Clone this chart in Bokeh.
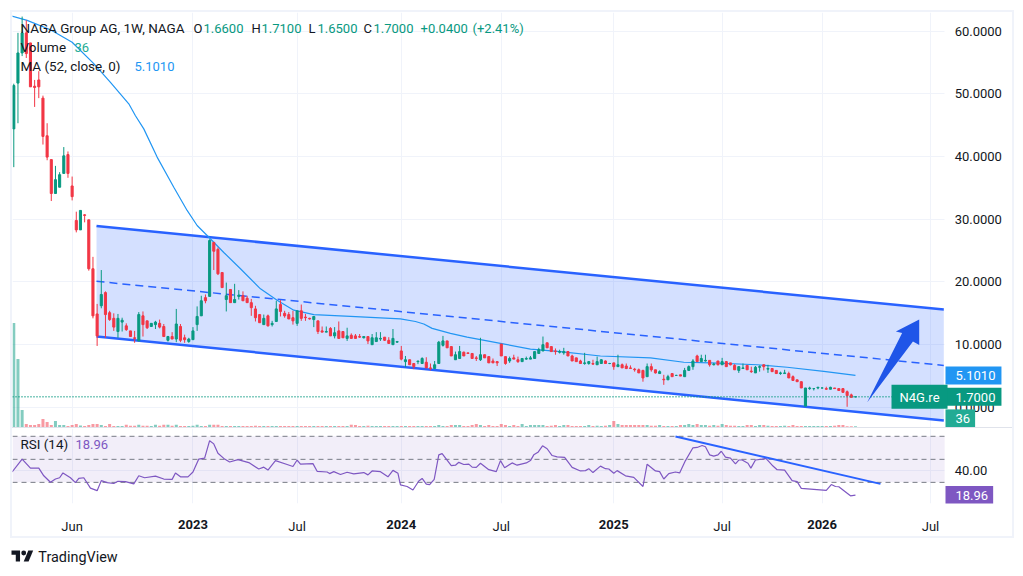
from bokeh.core.properties import value
from bokeh.embed import file_html
from bokeh.layouts import column
from bokeh.models import (ColumnDataSource, FixedTicker, Grid, Label, LinearAxis, NumeralTickFormatter,
                          Range1d, Spacer)
from bokeh.plotting import figure
from bokeh.resources import INLINE

# weekly candles: (open, high, low, close)
candles = [
    (44.4, 51.6, 38.3, 51.3), (51.7, 59.7, 45.3, 56.5), (56.5, 62.3, 56.0, 59.7), (59.7, 61.7, 55.7, 56.4),
    (58.1, 58.1, 51.1, 51.1), (51.2, 52.2, 47.9, 51.0), (52.2, 53.6, 49.3, 51.1), (49.3, 49.7, 41.9, 43.2),
    (43.3, 45.3, 39.4, 39.9), (39.5, 39.5, 32.9, 34.1), (34.1, 38.5, 34.1, 36.3), (35.1, 37.5, 35.1, 37.1),
    (37.3, 41.5, 37.3, 40.1), (40.3, 40.8, 36.6, 37.3), (35.3, 36.8, 33.0, 33.6), (29.8, 31.2, 27.9, 28.3),
    (28.3, 31.4, 28.3, 31.4), (30.7, 30.8, 29.5, 30.6), (29.9, 29.9, 21.8, 22.1), (22.1, 24.0, 14.2, 14.6),
    (14.9, 16.5, 9.8, 11.4), (16.2, 21.9, 15.8, 18.0), (18.3, 18.5, 11.1, 14.8), (15.1, 15.4, 13.8, 14.0),
    (14.2, 15.0, 12.2, 12.8), (12.1, 14.9, 11.1, 14.2), (13.6, 14.3, 12.1, 13.9), (13.0, 13.4, 12.2, 12.4),
    (12.2, 12.2, 11.3, 11.3), (11.1, 12.2, 10.3, 11.0), (10.6, 15.2, 10.6, 14.8), (14.6, 15.3, 11.3, 13.2),
    (13.8, 13.8, 12.5, 12.7), (12.9, 13.4, 12.9, 13.4), (13.2, 13.8, 12.5, 13.6), (13.4, 14.0, 12.6, 12.8),
    (12.9, 13.3, 11.3, 11.3), (10.7, 11.4, 10.5, 11.3), (11.3, 12.0, 10.9, 10.9), (10.9, 15.7, 10.4, 13.3),
    (12.9, 13.3, 10.4, 10.7), (11.1, 11.6, 10.3, 10.8), (10.5, 11.1, 10.3, 10.9), (10.8, 12.8, 10.8, 12.2),
    (13.2, 16.1, 12.2, 14.5), (14.6, 17.8, 14.6, 17.0), (17.5, 18.0, 16.6, 17.0), (17.7, 26.8, 17.7, 26.6),
    (26.3, 26.4, 21.9, 24.9), (25.2, 25.5, 21.1, 21.3), (21.5, 21.5, 19.1, 19.1), (17.2, 19.9, 15.3, 17.8),
    (18.8, 18.8, 16.7, 16.7), (16.7, 19.7, 16.7, 17.2), (17.7, 18.7, 17.2, 17.9), (17.8, 18.5, 17.0, 17.0),
    (17.4, 17.8, 16.7, 16.7), (16.7, 17.3, 14.6, 15.9), (15.7, 16.2, 13.7, 14.3), (14.8, 14.8, 13.5, 13.5),
    (13.2, 14.8, 13.2, 14.2), (14.6, 14.8, 12.9, 13.0), (13.2, 13.8, 12.9, 13.4), (13.7, 17.0, 13.7, 15.7),
    (16.4, 17.1, 14.5, 15.3), (15.0, 15.4, 14.3, 14.6), (14.8, 15.2, 14.1, 14.1), (14.3, 15.4, 13.2, 13.8),
    (13.4, 15.4, 13.0, 15.4), (15.4, 16.4, 13.8, 14.2), (14.4, 14.9, 13.8, 14.3), (14.2, 14.3, 14.0, 14.1),
    (14.0, 14.5, 12.8, 14.5), (13.8, 13.8, 11.7, 12.1), (12.2, 12.9, 12.0, 12.0), (12.0, 12.9, 12.0, 12.1),
    (12.6, 12.8, 11.4, 11.4), (11.4, 12.8, 11.0, 11.9), (12.2, 13.7, 11.0, 11.0), (12.1, 12.1, 11.1, 11.1),
    (11.0, 12.7, 10.6, 11.4), (11.5, 11.8, 11.0, 11.0), (11.4, 11.7, 11.0, 11.0), (11.3, 11.7, 11.1, 11.2),
    (11.1, 11.3, 11.0, 11.3), (11.3, 11.3, 10.1, 10.6), (10.0, 11.7, 10.0, 11.1), (10.5, 12.0, 10.5, 11.1),
    (10.9, 12.0, 10.6, 11.0), (11.2, 11.2, 10.6, 10.7), (10.7, 11.2, 10.2, 10.2), (10.0, 12.5, 10.0, 11.0),
    (10.4, 10.6, 10.3, 10.5), (9.0, 9.8, 7.5, 7.7), (7.3, 8.2, 6.4, 7.6), (7.6, 7.6, 6.8, 6.8),
    (7.0, 7.0, 6.1, 6.5), (7.3, 7.4, 6.9, 7.4), (7.0, 8.0, 7.0, 7.8), (7.2, 8.0, 6.3, 6.3),
    (6.3, 7.0, 5.9, 6.2), (6.2, 7.4, 6.2, 6.8), (7.0, 10.6, 7.0, 10.4), (9.9, 11.4, 9.7, 10.6),
    (10.6, 10.6, 9.5, 9.5), (9.7, 9.7, 8.2, 8.2), (7.6, 8.9, 7.6, 8.4), (7.8, 9.8, 7.8, 8.9),
    (8.8, 8.9, 8.2, 8.2), (8.7, 8.7, 8.6, 8.6), (8.6, 8.6, 7.8, 7.8), (7.9, 8.2, 7.4, 7.8),
    (7.6, 11.1, 7.4, 8.4), (8.4, 8.4, 7.9, 7.9), (8.1, 8.1, 7.1, 7.1), (7.4, 7.8, 7.1, 7.1),
    (7.3, 7.4, 6.6, 7.1), (10.1, 10.1, 8.2, 8.2), (8.1, 8.1, 6.8, 7.0), (7.4, 8.1, 7.1, 7.8),
    (7.9, 8.4, 7.7, 7.7), (7.6, 8.1, 7.1, 7.3), (7.3, 7.8, 7.3, 7.8), (7.7, 8.1, 7.6, 7.8),
    (7.7, 8.2, 7.7, 7.9), (7.8, 8.9, 7.8, 8.9), (8.6, 9.5, 8.6, 9.2), (9.0, 11.3, 9.0, 10.0),
    (10.3, 10.3, 9.5, 9.5), (9.7, 9.7, 8.9, 8.9), (9.0, 9.4, 8.4, 8.9), (8.8, 9.2, 8.6, 8.9),
    (8.7, 9.5, 8.4, 8.9), (8.9, 9.0, 8.2, 8.2), (8.2, 8.4, 7.4, 7.4), (7.9, 7.9, 7.3, 7.3),
    (7.4, 7.6, 7.0, 7.0), (7.0, 8.7, 6.8, 7.1), (7.0, 7.4, 6.8, 7.3), (7.0, 7.6, 6.8, 6.9),
    (6.8, 8.1, 6.8, 7.3), (7.0, 7.7, 7.0, 7.6), (7.4, 7.5, 7.0, 7.0), (7.0, 7.1, 6.9, 7.0),
    (7.1, 7.1, 6.0, 6.5), (6.5, 8.4, 6.5, 6.8), (6.8, 7.0, 6.3, 6.3), (6.6, 7.0, 6.1, 6.2),
    (6.3, 6.7, 6.2, 6.2), (6.1, 6.3, 5.7, 6.0), (6.0, 6.2, 5.5, 5.5), (5.9, 6.0, 4.1, 4.7),
    (4.9, 7.0, 4.9, 6.5), (6.5, 7.0, 5.7, 6.0), (6.0, 6.0, 5.4, 5.5), (5.4, 5.9, 5.4, 5.7),
    (4.5, 5.2, 3.6, 4.4), (4.4, 5.2, 4.4, 4.9), (5.4, 5.4, 4.9, 4.9), (5.1, 5.2, 5.1, 5.1),
    (5.2, 5.2, 5.0, 5.0), (4.9, 6.3, 4.9, 5.9), (5.9, 6.7, 5.9, 6.5), (6.5, 7.7, 6.0, 7.4),
    (8.2, 8.4, 7.3, 7.3), (7.3, 8.4, 7.3, 7.8), (7.4, 8.4, 7.3, 7.5), (7.5, 7.5, 6.5, 6.8),
    (6.8, 7.1, 6.7, 6.9), (7.4, 7.4, 6.7, 6.8), (6.8, 7.9, 6.8, 7.3), (7.3, 7.4, 6.5, 6.5),
    (7.1, 7.1, 6.7, 6.8), (6.7, 6.9, 6.0, 6.0), (5.9, 6.5, 5.5, 6.5), (6.2, 7.0, 6.2, 6.3),
    (6.7, 6.7, 6.0, 6.0), (5.8, 6.5, 5.5, 5.7), (5.5, 6.6, 5.5, 6.4), (6.4, 6.7, 5.7, 6.5),
    (6.8, 6.8, 5.9, 6.5), (6.1, 6.8, 5.5, 6.2), (6.2, 6.2, 5.7, 5.7), (5.9, 5.9, 5.4, 5.4),
    (5.4, 5.7, 5.2, 5.5), (5.4, 6.0, 5.4, 5.5), (5.4, 5.7, 4.7, 4.7), (4.9, 5.1, 4.3, 4.3),
    (4.4, 4.4, 4.1, 4.1), (4.1, 4.1, 3.1, 3.1), (0.2, 3.1, 0.2, 3.1), (3.0, 3.3, 2.8, 3.1),
    (3.0, 3.1, 2.7, 3.0), (3.1, 3.3, 2.9, 3.2), (3.1, 3.2, 3.0, 3.1), (3.0, 3.3, 2.8, 2.9),
    (2.9, 3.3, 2.9, 3.2), (3.1, 3.1, 3.0, 3.0), (3.0, 3.0, 2.7, 2.7), (3.0, 3.0, 2.4, 2.4),
    (2.5, 2.7, 0.1, 1.9), (2.0, 2.2, 1.6, 1.6), (1.66, 1.71, 1.65, 1.70),
]

volumes = [
    5200, 3400, 850, 150, 100, 100, 150, 400, 250, 100, 300, 100, 100, 50, 100, 150, 75, 50, 100, 150,
    150, 100, 50, 150, 50, 50, 50, 115, 65, 65, 115, 65, 65, 50, 115, 65, 115, 115, 65, 115,
    50, 50, 50, 65, 115, 50, 50, 115, 115, 115, 50, 50, 50, 50, 50, 50, 50, 50, 65, 50,
    50, 50, 50, 50, 50, 50, 50, 50, 50, 50, 50, 50, 50, 50, 50, 50, 50, 50, 50, 50,
    50, 115, 100, 50, 50, 65, 50, 50, 50, 50, 50, 50, 50, 50, 50, 50, 50, 50, 50, 50,
    50, 50, 100, 50, 50, 100, 100, 100, 50, 50, 100, 150, 100, 50, 100, 50, 50, 150, 100, 50,
    100, 50, 150, 50, 100, 100, 100, 100, 50, 65, 100, 50, 100, 100, 50, 50, 50, 50, 100, 50,
    65, 50, 65, 100, 300, 150, 100, 100, 100, 100, 100, 100, 100, 65, 65, 100, 50, 50, 50, 50,
    100, 100, 150, 100, 150, 100, 100, 65, 100, 65, 150, 100, 65, 65, 50, 50, 100, 100, 50, 100,
    100, 65, 50, 50, 50, 65, 50, 100, 50, 50, 50, 50, 50, 50, 50, 50, 50, 65, 100, 100, 36,
    36, 36,
]

ma_weeks = [-0.5, 3.2, 8.8, 14, 19.2, 23.2, 27.6, 29.2, 31.2, 34.4, 38.4, 41.6, 44, 46.4, 50.4, 54.4, 59.2, 63.2,
            67.2, 72, 80.8, 92.8, 96.4, 98.4, 100.4, 104.8, 108.8, 116.8, 124, 131.2, 140.8, 152.8, 160.8, 167.2,
            178.4, 185.6, 194.4, 202]
ma_values = [62.4, 61.7, 60.2, 58.2, 54.8, 51.8, 48.4, 46.5, 44.4, 39.9, 35.1, 31.4, 29.0, 27.4, 24.7, 22.1, 18.9, 17.1,
             15.5, 14.8, 14.5, 14.1, 13.7, 13.3, 12.6, 11.8, 11.2, 10.2, 9.3, 8.9, 8.2, 7.9, 7.2, 7.1,
             6.8, 6.4, 5.75, 5.1]

rsi_weeks = [-0.4, 2, 4, 6, 7.2, 8.8, 10, 11, 11.8, 13.6, 14.8, 15.6, 16.8, 18.4, 20, 21, 22.4, 24, 25, 26.8, 28.8, 30,
             31.4, 34, 36, 38, 38.8, 40, 41.8, 43, 44.4, 45.8, 47, 48, 49, 50.4, 51.8, 53.8, 56.4, 58.8, 60, 61, 62.8,
             65.6, 67, 68, 68.8, 71.8, 72.8, 75.2, 75.8, 76.8, 78.4, 80, 81.6, 84, 85, 86, 88, 89.8, 91, 92.2, 92.8,
             94.4, 95.8, 97.2, 98, 99, 99.8, 100.9, 102, 102.8, 105, 106, 106.8, 108, 109.2, 110, 111, 112, 114, 115.8,
             116.8, 117.8, 119.6, 120.8, 123, 124, 124.8, 125.8, 126.9, 128, 129.2, 130.4, 132.2, 134, 136, 137.2,
             138, 139, 140.8, 142, 142.8, 144, 144.8, 146.8, 148.8, 151, 152, 154, 155, 156, 157.2, 158.8, 159.8,
             161.2, 163, 164, 165.2, 166, 167, 168, 169, 169.8, 170.8, 172, 173.2, 174, 174.8, 176.2, 176.9, 178,
             179.6, 180.5, 182, 183.2, 185, 186.8, 188, 189, 192, 195, 196.2, 197.2, 198, 200.8, 202]
rsi_values = [39.0, 50.2, 42.4, 42.4, 35.7, 30.1, 32.9, 34.0, 38.2, 34.0, 29.8, 33.4, 34.0, 25.0, 22.8, 31.5, 29.8, 29.0,
              30.9, 30.6, 28.7, 35.7, 34.0, 35.4, 32.9, 32.6, 38.2, 34.8, 34.8, 39.0, 50.2, 51.1, 66.2, 63.4, 55.3,
              50.8, 47.7, 49.7, 47.2, 41.6, 43.2, 40.7, 48.9, 45.5, 43.8, 49.4, 45.8, 46.3, 39.6, 39.0, 37.6, 39.3,
              36.8, 38.8, 37.4, 38.5, 36.5, 39.9, 39.3, 34.8, 40.4, 37.9, 27.8, 26.4, 23.4, 31.2, 33.4, 28.4, 28.1,
              32.6, 53.9, 55.0, 44.6, 44.9, 47.4, 45.5, 45.8, 43.2, 43.0, 46.6, 41.0, 39.3, 48.9, 42.7, 46.9, 44.9,
              46.9, 48.9, 53.9, 56.1, 61.7, 59.2, 53.3, 52.2, 51.7, 43.0, 39.9, 40.2, 41.9, 38.5, 44.1, 41.9, 41.6,
              37.9, 40.2, 35.7, 34.3, 26.4, 45.8, 39.9, 39.3, 32.9, 37.6, 39.0, 38.2, 48.9, 60.0, 60.3, 62.0, 60.9,
              53.9, 52.8, 53.9, 57.0, 51.9, 51.1, 46.0, 49.4, 49.4, 46.6, 42.4, 49.4, 50.2, 50.8, 44.9, 41.0, 40.7,
              31.5, 30.6, 24.8, 23.9, 23.0, 28.1, 26.4, 26.2, 18.3, 18.96]

# drawings on the chart
channel_weeks = [19.85, 223.2]
channel_upper = [28.9, 15.6]
channel_mid = [20.1, 6.7]
channel_lower = [11.3, -2.1]
arrow_weeks = [204.8, 213.2, 211.7, 217.3, 217.3, 215.8]
arrow_prices = [0.8, 11.86, 12.12, 14.03, 9.95, 10.52]
rsi_trend_weeks = [158.8, 208]
rsi_trend_values = [69.9, 28.7]

month_ticks = [14, 68, 117, 170, 220]
month_labels = ["Jun", "Jul", "Jul", "Jul", "Jul"]
year_ticks = [43, 93, 144, 194]
year_labels = ["2023", "2024", "2025", "2026"]
price_ticks = [0, 10, 20, 30, 40, 50, 60]

last_close = 1.70
last_ma = 5.101
last_rsi = 18.96

UP = "#089981"
DOWN = "#f23645"
BLUE = "#2962ff"
MA_BLUE = "#2196f3"
PURPLE = "#7e57c2"
VOL_TAG = "#22ab94"
GRID = "#f0f3fa"
INK = "#131722"
FONT = "Roboto"
FS = "13px"
TAG_X = 933  # just right of the time scale's end
X_START, X_END = -0.31, 223.4  # the time scale; the frame runs on under the price labels

weeks = list(range(len(candles)))
opens = [c[0] for c in candles]
highs = [c[1] for c in candles]
lows = [c[2] for c in candles]
closes = [c[3] for c in candles]
colors = [UP if c >= o else DOWN for o, c in zip(opens, closes)]
src = ColumnDataSource(dict(week=weeks, open=opens, high=highs, low=lows, close=closes,
                            color=colors, vol=volumes[:len(candles)]))

x_range = Range1d(X_START, 239.69)


def style_price_axis(axis):
    axis.axis_line_color = None
    axis.major_tick_line_color = None
    axis.minor_tick_line_color = None
    axis.major_label_standoff = 4
    axis.major_label_text_color = INK
    axis.major_label_text_font = FONT
    axis.major_label_text_font_size = FS


price = figure(width=1000, height=415, x_range=x_range, y_range=(-3.2, 62.95), x_axis_type=None,
               y_axis_location=None, output_backend="svg", toolbar_location=None, min_border=0)
price.outline_line_color = None
price.ygrid.grid_line_color = None
price.add_layout(Grid(dimension=1, ticker=FixedTicker(ticks=price_ticks), grid_line_color=GRID,
                      cross_bounds=(X_START, X_END)))
price.add_layout(Grid(dimension=0, ticker=FixedTicker(ticks=month_ticks + year_ticks), grid_line_color=GRID))
price_axis = LinearAxis(ticker=FixedTicker(ticks=price_ticks), formatter=NumeralTickFormatter(format="0.0000"),
                        fixed_location=X_END)
style_price_axis(price_axis)
price.add_layout(price_axis, "right")

# volume sits on its own scale at the bottom of the pane
price.extra_y_ranges = {"vol": Range1d(-25, 20725)}
price.vbar(x="week", top="vol", bottom=0, width=0.72, source=src, y_range_name="vol",
           fill_color="color", line_color=None, fill_alpha=0.5)

# channel
price.patch(channel_weeks + channel_weeks[::-1], channel_upper + channel_lower[::-1],
            fill_color=BLUE, fill_alpha=0.2, line_color=None)
price.line(channel_weeks, channel_upper, line_color=BLUE, line_width=2.5)
price.line(channel_weeks, channel_lower, line_color=BLUE, line_width=2.5)
price.line(channel_weeks, channel_mid, line_color=BLUE, line_width=1.5, line_dash=[8, 5])

price.line(ma_weeks, ma_values, line_color=MA_BLUE, line_width=1.2)

price.segment("week", "high", "week", "low", color="color", source=src, line_width=1)
price.vbar(x="week", top="open", bottom="close", width=0.5, source=src,
           fill_color="color", line_color="color", line_width=1)

price.line([X_START, X_END], [last_close, last_close], line_color=UP, line_width=1.5, line_dash=[1, 2])
price.patch(arrow_weeks, arrow_prices, fill_color="#1f55e8", line_color=None)


def legend(fig, x, y, text, color=INK, size=FS):
    fig.add_layout(Label(x=x, y=y, x_units="screen", y_units="screen", text=text, text_color=color,
                         text_font=FONT, text_font_size=size, text_baseline="middle"))


def tag(fig, y, text, fill, x=TAG_X, padding=(10, 6, 5, 4)):
    fig.add_layout(Label(x=x, y=y, x_units="screen", text=text, text_color="white", text_font=FONT,
                         text_font_size=FS, text_baseline="middle", background_fill_color=fill, padding=padding))


legend(price, 8, 399, "NAGA Group AG, 1W, NAGA", size="13.45px")
for x, text, color in [(181, "O", INK), (191, "1.6600", UP), (239, "H", INK), (249, "1.7100", UP),
                       (296, "L", INK), (305, "1.6500", UP), (351, "C", INK), (361, "1.7000", UP),
                       (408, "+0.0400", UP), (460, "(+2.41%)", UP)]:
    legend(price, x, 399, text, color)
legend(price, 8, 380, "Volume", size="13.45px")
legend(price, 62, 380, "36", VOL_TAG)
legend(price, 8, 361, "MA (52, close, 0)", size="13.45px")
legend(price, 122, 361, "5.1010", MA_BLUE)

tag(price, last_ma, "5.1010", MA_BLUE)
tag(price, -1.75, "36", VOL_TAG, padding=(10, 5, 5, 4))
tag(price, last_close, "1.7000", UP)
tag(price, last_close, "N4G.re", UP, x=879, padding=(8, 8, 5, 4))

# rsi pane
rsi = figure(width=1000, height=108, x_range=x_range, y_range=(11.65, 76.77), x_axis_type=None,
             y_axis_location=None, output_backend="svg", toolbar_location=None,
             min_border_left=0, min_border_right=0, min_border_top=0, min_border_bottom=31)
rsi.outline_line_color = None
rsi.ygrid.grid_line_color = None
rsi.add_layout(Grid(dimension=1, ticker=FixedTicker(ticks=[40]), grid_line_color=GRID, cross_bounds=(X_START, X_END)))
rsi.add_layout(Grid(dimension=0, ticker=FixedTicker(ticks=month_ticks + year_ticks), grid_line_color=GRID))
rsi_axis = LinearAxis(ticker=FixedTicker(ticks=[40]), formatter=NumeralTickFormatter(format="0.00"),
                      fixed_location=X_END)
style_price_axis(rsi_axis)
rsi.add_layout(rsi_axis, "right")

rsi.patch([X_START, X_END, X_END, X_START], [70, 70, 30, 30], fill_color=PURPLE, fill_alpha=0.1, line_color=None)
for level in [70, 50, 30]:
    rsi.line([X_START, X_END], [level, level], line_color="#787b86", line_width=1, line_dash=[5, 4])
rsi.line(rsi_weeks, rsi_values, line_color=PURPLE, line_width=1.2)
rsi.line(rsi_trend_weeks, rsi_trend_values, line_color=BLUE, line_width=2)

# two stacked axes: the second pulled back up so that bold years sit on the month row
for ticks, labels, style, standoff in [(month_ticks, month_labels, "normal", 9), (year_ticks, year_labels, "bold", -23)]:
    axis = LinearAxis(ticker=FixedTicker(ticks=ticks), major_label_overrides=dict(zip(ticks, labels)))
    axis.axis_line_color = None
    axis.major_tick_line_color = None
    axis.minor_tick_line_color = None
    axis.major_label_standoff = standoff
    axis.major_label_text_color = INK
    axis.major_label_text_font = FONT
    axis.major_label_text_font_size = FS
    axis.major_label_text_font_style = style
    rsi.add_layout(axis, "below")

legend(rsi, 8, 59, "RSI (14)", size="13.45px")
legend(rsi, 63, 59, "18.96", PURPLE)
tag(rsi, last_rsi, "18.96", PURPLE, padding=(10, 5, 5, 4))

rule = Spacer(width=1000, height=1, styles={"background-color": "#e0e3eb"})
chart = column(price, rule, rsi, spacing=0, margin=(10, 0, 0, 10),
               styles={"border": "2px solid " + GRID, "box-sizing": "content-box"})

# footer logo, drawn in the logo's own units
logo = figure(width=200, height=30, x_range=(-1.64, 326), y_range=(33.5, -15.7), x_axis_type=None, y_axis_type=None,
              output_backend="svg", toolbar_location=None, min_border=0, margin=(0, 0, 0, 10))
logo.outline_line_color = None
logo.grid.visible = False
logo.patches([[0, 14, 14, 7, 7, 0], [27.5, 35.5, 28, 20]], [[4, 4, 22, 22, 11, 11], [4, 4, 22, 22]],
             fill_color=INK, line_color=None)
logo.circle([20], [8], radius=4, fill_color=INK, line_color=None)
logo.text([44], [15.5], text=["TradingView"], text_color=INK, text_font=value(FONT), text_font_size=value("14.4px"),
          text_baseline="middle")

page = column(chart, logo, spacing=0, margin=0)
open("out.html", "w").write(file_html(page, INLINE))
